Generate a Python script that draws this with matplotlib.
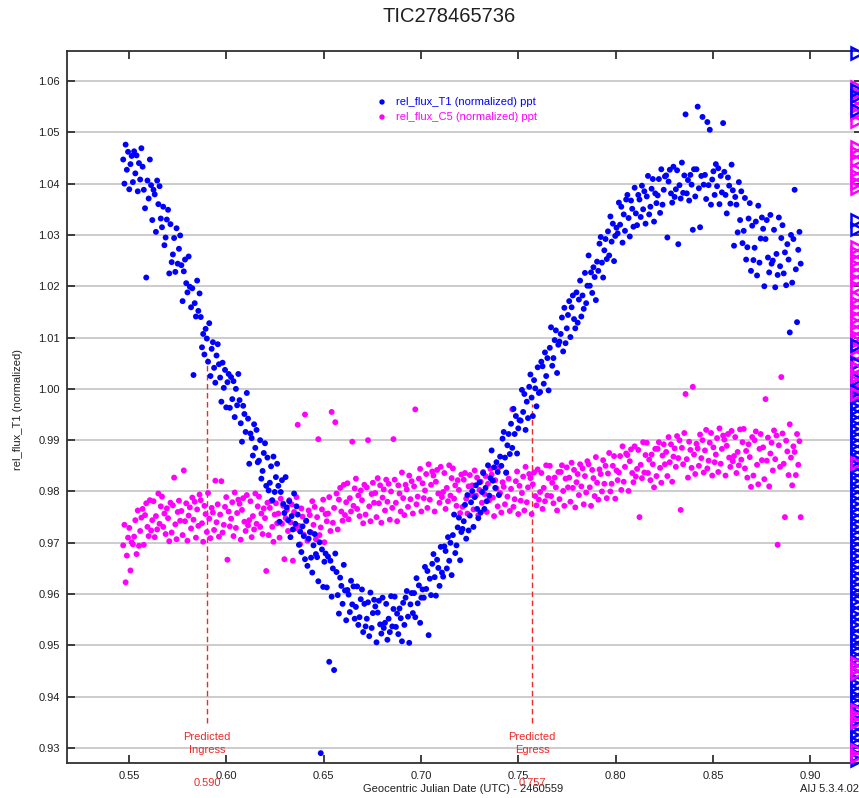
import numpy as np
import matplotlib
matplotlib.use("Agg")
import matplotlib.pyplot as plt
from matplotlib.transforms import blended_transform_factory

plt.rcParams['font.family'] = ['Liberation Sans', 'DejaVu Sans']

# ---------------- data (flux values in units of 1e-4) ----------------
t_start, t_end = 0.547, 0.895   # time span of the observations (JD - 2460559)

T1 = [
    10447, 10400, 10476, 10427, 10462, 10389, 10438, 10454,
    10403, 10463, 10420, 10455, 10385, 10440, 10408, 10469,
    10433, 10388, 10352, 10217, 10406, 10371, 10447, 10397,
    10329, 10388, 10379, 10306, 10406, 10360, 10395, 10332,
    10315, 10355, 10280, 10295, 10330, 10349, 10225, 10321,
    10247, 10262, 10294, 10228, 10313, 10244, 10273, 10299,
    10241, 10171, 10229, 10252, 10206, 10188, 10258, 10199,
    10159, 10196, 10027, 10167, 10141, 10211, 10152, 10186,
    10140, 10081, 10107, 10067, 10117, 10098, 10053, 10128,
    10025, 10078, 10091, 10041, 10012, 10065, 10087, 10048,
    10022, 9975, 10051, 10002, 10037, 9964, 10013, 10029,
    9963, 10023, 9980, 10015, 9945, 10000, 9968, 10029,
    9978, 9933, 9897, 9967, 9951, 9916, 9992, 9942,
    9854, 9913, 9904, 9870, 9931, 9885, 9920, 9857,
    9860, 9900, 9825, 9840, 9875, 9894, 9811, 9866,
    9802, 9817, 9849, 9783, 9868, 9799, 9828, 9854,
    9811, 9741, 9799, 9822, 9776, 9758, 9828, 9769,
    9744, 9781, 9711, 9752, 9726, 9796, 9737, 9771,
    9755, 9696, 9722, 9682, 9732, 9713, 9668, 9743,
    9655, 9708, 9721, 9671, 9642, 9695, 9717, 9678,
    9672, 9625, 9701, 9290, 9687, 9614, 9663, 9679,
    9613, 9673, 9468, 9665, 9595, 9650, 9452, 9679,
    9643, 9598, 9562, 9632, 9616, 9581, 9657, 9607,
    9549, 9608, 9599, 9565, 9626, 9580, 9615, 9552,
    9575, 9615, 9540, 9555, 9590, 9609, 9526, 9581,
    9537, 9552, 9584, 9518, 9603, 9534, 9563, 9589,
    9576, 9506, 9564, 9587, 9541, 9523, 9593, 9534,
    9544, 9581, 9511, 9552, 9526, 9596, 9537, 9571,
    9595, 9536, 9562, 9522, 9572, 9553, 9508, 9583,
    9540, 9593, 9606, 9556, 9505, 9580, 9602, 9563,
    9602, 9555, 9631, 9582, 9617, 9544, 9593, 9609,
    9593, 9653, 9610, 9645, 9520, 9630, 9598, 9659,
    9678, 9633, 9597, 9667, 9651, 9616, 9692, 9642,
    9634, 9693, 9684, 9650, 9711, 9665, 9700, 9637,
    9715, 9755, 9680, 9695, 9730, 9749, 9666, 9721,
    9727, 9742, 9774, 9708, 9793, 9724, 9753, 9779,
    9801, 9731, 9789, 9812, 9766, 9748, 9818, 9759,
    9799, 9836, 9766, 9807, 9781, 9851, 9792, 9826,
    9880, 9821, 9847, 9807, 9857, 9838, 9793, 9868,
    9850, 9903, 9916, 9866, 9837, 9890, 9912, 9873,
    9932, 9885, 9961, 9912, 9947, 9874, 9923, 9939,
    9938, 9998, 9955, 9990, 9920, 9975, 9943, 10004,
    10028, 9983, 9947, 10017, 10001, 9966, 10042, 9992,
    9994, 10053, 10044, 10010, 10071, 10025, 10060, 9997,
    10080, 10120, 10045, 10060, 10095, 10114, 10031, 10086,
    10092, 10107, 10139, 10073, 10158, 10089, 10118, 10144,
    10171, 10101, 10159, 10182, 10136, 10118, 10188, 10129,
    10174, 10211, 10141, 10182, 10156, 10226, 10167, 10201,
    10260, 10201, 10227, 10187, 10237, 10218, 10173, 10248,
    10230, 10283, 10296, 10246, 10217, 10270, 10292, 10253,
    10307, 10260, 10336, 10287, 10322, 10249, 10298, 10314,
    10303, 10363, 10320, 10355, 10285, 10340, 10308, 10369,
    10378, 10333, 10297, 10367, 10351, 10316, 10392, 10342,
    10319, 10378, 10369, 10335, 10396, 10350, 10385, 10322,
    10375, 10415, 10340, 10355, 10390, 10409, 10326, 10381,
    10362, 10377, 10409, 10343, 10428, 10359, 10388, 10414,
    10416, 10295, 10404, 10427, 10381, 10363, 10433, 10374,
    10389, 10426, 10282, 10397, 10371, 10441, 10382, 10416,
    10535, 10381, 10407, 10367, 10417, 10398, 10310, 10428,
    10375, 10428, 10550, 10391, 10315, 10415, 10530, 10398,
    10417, 10370, 10520, 10397, 10505, 10359, 10408, 10424,
    10378, 10438, 10395, 10430, 10360, 10415, 10383, 10518,
    10423, 10378, 10342, 10412, 10396, 10361, 10437, 10387,
    10279, 10374, 10359, 10305, 10403, 10329, 10385, 10284,
    10308, 10372, 10252, 10276, 10332, 10362, 10230, 10318,
    10251, 10275, 10326, 10221, 10357, 10246, 10293, 10334,
    10312, 10200, 10292, 10329, 10256, 10227, 10339, 10244,
    10250, 10310, 10198, 10263, 10222, 10334, 10239, 10294,
    10319, 10225, 10266, 10202, 10282, 10252, 10110, 10300,
    10207, 10292, 10388, 10233, 10130, 10271, 10306, 10244,
]

C5 = [
    9695, 9735, 9623, 9675, 9710, 9729, 9646, 9701,
    9697, 9712, 9744, 9678, 9763, 9694, 9723, 9749,
    9766, 9696, 9754, 9777, 9731, 9713, 9783, 9724,
    9744, 9781, 9711, 9752, 9726, 9796, 9737, 9771,
    9790, 9731, 9757, 9717, 9767, 9748, 9703, 9778,
    9720, 9773, 9827, 9736, 9707, 9760, 9782, 9743,
    9762, 9715, 9841, 9742, 9777, 9704, 9753, 9769,
    9728, 9788, 9745, 9780, 9710, 9765, 9733, 9794,
    9783, 9738, 9702, 9772, 9756, 9721, 9797, 9747,
    9709, 9768, 9759, 9725, 9821, 9740, 9775, 9712,
    9755, 9820, 9720, 9735, 9770, 9789, 9667, 9761,
    9732, 9747, 9779, 9713, 9798, 9729, 9758, 9784,
    9776, 9706, 9764, 9787, 9741, 9723, 9793, 9734,
    9744, 9781, 9711, 9752, 9726, 9796, 9737, 9771,
    9790, 9731, 9757, 9717, 9767, 9748, 9645, 9778,
    9715, 9768, 9781, 9731, 9702, 9755, 9777, 9738,
    9757, 9710, 9786, 9737, 9772, 9668, 9748, 9764,
    9723, 9783, 9740, 9775, 9665, 9760, 9728, 9789,
    9930, 9733, 9697, 9767, 9751, 9716, 9950, 9742,
    9704, 9763, 9754, 9720, 9781, 9735, 9770, 9707,
    9750, 9902, 9715, 9730, 9765, 9784, 9701, 9756,
    9742, 9757, 9789, 9723, 9955, 9739, 9768, 9935,
    9796, 9726, 9784, 9807, 9761, 9743, 9813, 9754,
    9779, 9816, 9746, 9787, 9761, 9897, 9772, 9806,
    9825, 9766, 9792, 9752, 9802, 9783, 9738, 9813,
    9755, 9808, 9900, 9771, 9742, 9795, 9817, 9778,
    9797, 9750, 9826, 9777, 9812, 9739, 9788, 9804,
    9763, 9823, 9780, 9815, 9745, 9800, 9768, 9902,
    9823, 9778, 9742, 9812, 9796, 9761, 9837, 9787,
    9754, 9813, 9804, 9770, 9831, 9785, 9820, 9757,
    9810, 9960, 9775, 9790, 9825, 9844, 9761, 9816,
    9787, 9802, 9834, 9768, 9853, 9784, 9813, 9839,
    9831, 9761, 9819, 9842, 9796, 9778, 9848, 9789,
    9799, 9836, 9766, 9807, 9781, 9851, 9792, 9826,
    9845, 9786, 9812, 9772, 9822, 9803, 9758, 9833,
    9770, 9823, 9836, 9786, 9757, 9810, 9832, 9793,
    9812, 9765, 9841, 9792, 9827, 9754, 9803, 9819,
    9778, 9838, 9795, 9830, 9760, 9815, 9783, 9844,
    9833, 9788, 9752, 9822, 9806, 9771, 9847, 9797,
    9759, 9818, 9809, 9775, 9836, 9790, 9825, 9762,
    9805, 9960, 9770, 9785, 9820, 9839, 9756, 9811,
    9782, 9797, 9829, 9763, 9848, 9779, 9808, 9834,
    9826, 9756, 9814, 9837, 9791, 9773, 9843, 9784,
    9799, 9836, 9766, 9807, 9781, 9851, 9792, 9826,
    9850, 9791, 9817, 9777, 9827, 9808, 9763, 9838,
    9785, 9838, 9851, 9801, 9772, 9825, 9847, 9808,
    9827, 9780, 9856, 9807, 9842, 9769, 9818, 9834,
    9793, 9853, 9810, 9845, 9775, 9830, 9798, 9859,
    9853, 9808, 9772, 9842, 9826, 9791, 9867, 9817,
    9784, 9843, 9834, 9800, 9861, 9815, 9850, 9787,
    9835, 9875, 9800, 9815, 9850, 9869, 9786, 9841,
    9822, 9837, 9869, 9803, 9888, 9819, 9848, 9874,
    9871, 9801, 9859, 9882, 9836, 9818, 9888, 9829,
    9844, 9881, 9750, 9852, 9826, 9896, 9837, 9871,
    9895, 9836, 9862, 9822, 9872, 9853, 9808, 9883,
    9830, 9883, 9896, 9846, 9817, 9870, 9892, 9853,
    9877, 9830, 9906, 9857, 9892, 9819, 9868, 9884,
    9848, 9908, 9865, 9900, 9764, 9885, 9853, 9914,
    9990, 9863, 9827, 9897, 9881, 9846, 10004, 9872,
    9834, 9893, 9884, 9850, 9911, 9865, 9900, 9837,
    9880, 9920, 9845, 9860, 9895, 9914, 9831, 9886,
    9857, 9872, 9904, 9838, 9923, 9854, 9883, 9909,
    9901, 9831, 9889, 9912, 9866, 9848, 9918, 9859,
    9869, 9906, 9836, 9877, 9851, 9921, 9862, 9896,
    9922, 9845, 9879, 9827, 9892, 9867, 9809, 9906,
    9831, 9900, 9917, 9852, 9814, 9883, 9912, 9861,
    9886, 9824, 9980, 9860, 9905, 9810, 9874, 9895,
    9841, 9919, 9863, 9909, 9696, 9890, 9848, 10023,
    9913, 9854, 9750, 9899, 9878, 9832, 9931, 9866,
    9812, 9888, 9877, 9832, 9912, 9852, 9898, 9750,
]

# points stacked at the right-hand edge (open triangles)
edge_x = 0.9238
T1_edge = [10655, 10582, 10570, 10543, 10329, 10312, 10085, 10050, 10020, 9995,
           9985, 9973, 9962, 9951, 9940, 9928, 9917, 9906, 9895, 9883, 9872,
           9861, 9850, 9838, 9827, 9816, 9805, 9793, 9782, 9771, 9760, 9748,
           9737, 9726, 9715, 9703, 9692, 9681, 9670, 9658, 9647, 9636, 9625,
           9613, 9602, 9591, 9580, 9568, 9557, 9546, 9535, 9523, 9512, 9501,
           9490, 9478, 9467, 9456, 9445, 9433, 9422, 9411, 9400, 9388, 9377,
           9366, 9355, 9343, 9332, 9321, 9310, 9298, 9287, 9276]
C5_edge = [10588, 10576, 10563, 10551, 10537, 10522, 10471, 10459, 10446, 10427,
           10414, 10401, 10392, 10276, 10264, 10251, 10239, 10226, 10212, 10199,
           10179, 10167, 10154, 10141, 10128, 10114, 10101, 10094, 10080, 10066,
           10053, 10040, 10026, 10013, 10000, 9987]
C5_edge_top = [10040, 10025, 9990, 9855, 9465, 9455, 9446, 9374, 9362, 9350, 9296, 9284]

ingress, egress = 0.590, 0.757
ingress_top, egress_top = 1.006, 0.997
pred_bottom = 0.9348

xticks = [0.55, 0.60, 0.65, 0.70, 0.75, 0.80, 0.85, 0.90]
yticks = [0.93, 0.94, 0.95, 0.96, 0.97, 0.98, 0.99, 1.00, 1.01, 1.02, 1.03, 1.04, 1.05, 1.06]

# ---------------- figure ----------------
W, H = 859, 798
fig = plt.figure(figsize=(W / 100, H / 100), dpi=100)
ax = fig.add_axes([67 / W, (H - 763) / H, (862 - 67) / W, (763 - 51) / H])

ax.set_xlim(0.51813, 0.9265)
ax.set_ylim(0.92708, 1.06585)

t1 = np.array(T1) * 1e-4
c5 = np.array(C5) * 1e-4
tt = np.linspace(t_start, t_end, len(T1))

ax.set_axisbelow(True)
ax.yaxis.grid(True, color='#c8c8c8', lw=1.3)
ax.xaxis.grid(False)

red = '#ee2a2a'
ax.plot([ingress, ingress], [pred_bottom, ingress_top], color=red, lw=1.0,
        ls=(0, (4, 2.5)), zorder=1)
ax.plot([egress, egress], [pred_bottom, egress_top], color=red, lw=1.0,
        ls=(0, (4, 2.5)), zorder=1)

ax.scatter(tt, c5, s=18, color='#ff00ff', edgecolors='none', zorder=2)
ax.scatter(tt, t1, s=18, color='#0000ff', edgecolors='none', zorder=3)

mk = dict(ls='none', marker='>', ms=8, mfc='none', mew=1.8, clip_on=False)
ax.plot([edge_x] * len(C5_edge), np.array(C5_edge) * 1e-4, mec='#ff00ff', zorder=4, **mk)
ax.plot([edge_x] * len(T1_edge), np.array(T1_edge) * 1e-4, mec='#0000ff', zorder=5, **mk)
ax.plot([edge_x] * len(C5_edge_top), np.array(C5_edge_top) * 1e-4, mec='#ff00ff',
        zorder=6, **mk)

# ticks
ax.set_xticks(xticks)
ax.set_xticklabels([f"{v:.2f}" for v in xticks])
ax.set_yticks(yticks)
ax.set_yticklabels([f"{v:.2f}" for v in yticks])
ax.tick_params(axis='both', direction='in', length=6, width=1.3, color='#303030',
               labelsize=8, labelcolor='#202020', top=True, right=True)
ax.tick_params(axis='x', pad=6)
ax.tick_params(axis='y', pad=5)
for s in ax.spines.values():
    s.set_color('#303030')
    s.set_linewidth(1.3)

# predicted labels
tr = blended_transform_factory(ax.transData, ax.transAxes)
ax.text(ingress, 0.9309, "Predicted\nIngress", color=red, fontsize=8, ha='center',
        va='center', linespacing=1.3)
ax.text(egress, 0.9309, "Predicted\nEgress", color=red, fontsize=8, ha='center',
        va='center', linespacing=1.3)
ax.text(ingress, (763 - 783) / 712, f"{ingress:.3f}", color=red, fontsize=8,
        ha='center', va='center', transform=tr)
ax.text(egress, (763 - 783) / 712, f"{egress:.3f}", color=red, fontsize=8,
        ha='center', va='center', transform=tr)

# legend (manual)
ax.scatter([(382 - 67) / 795], [(763 - 102) / 712], s=15, color='#0000ff',
           edgecolors='none', transform=ax.transAxes, clip_on=False)
ax.scatter([(382 - 67) / 795], [(763 - 117) / 712], s=15, color='#ff00ff',
           edgecolors='none', transform=ax.transAxes, clip_on=False)
ax.text((396 - 67) / 795, (763 - 102) / 712, "rel_flux_T1 (normalized) ppt",
        color='#0000ff', fontsize=8, va='center', ha='left', transform=ax.transAxes)
ax.text((396 - 67) / 795, (763 - 117) / 712, "rel_flux_C5 (normalized) ppt",
        color='#ff00ff', fontsize=8, va='center', ha='left', transform=ax.transAxes)

# labels
ax.set_xlabel("Geocentric Julian Date (UTC) - 2460559", fontsize=8, color='#202020',
              va='center')
ax.xaxis.set_label_coords((463 - 67) / 795, (763 - 789) / 712)
ax.set_ylabel("rel_flux_T1 (normalized)", fontsize=8, color='#202020', va='center')
ax.yaxis.set_label_coords((18 - 67) / 795, (763 - 410) / 712)

fig.text(449 / W, 1 - 17 / H, "TIC278465736", fontsize=14.5, ha='center', va='center',
         color='#202020')
fig.text(830 / W, 1 - 789 / H, "AIJ 5.3.4.02", fontsize=8, ha='center', va='center',
         color='#202020')

fig.savefig("out.png", dpi=100)
